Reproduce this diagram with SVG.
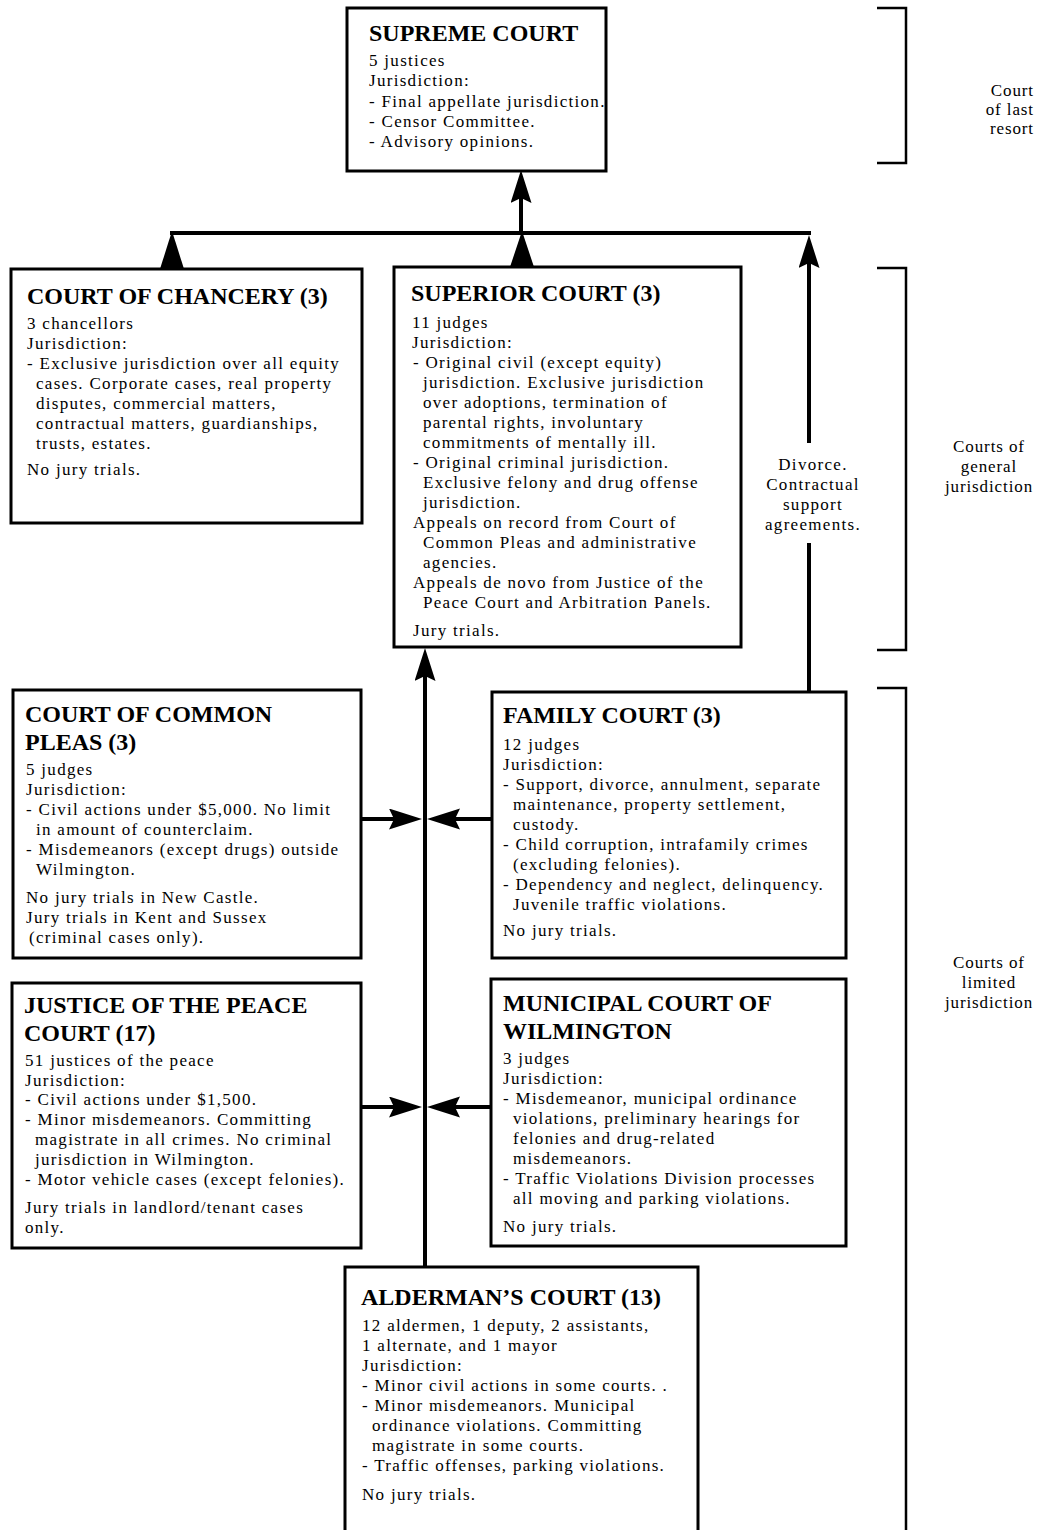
<svg xmlns="http://www.w3.org/2000/svg" width="1039" height="1530" viewBox="0 0 1039 1530">
<style>
.bg{fill:#fff}
.box{fill:#fff;stroke:#000;stroke-width:3}
.title{font-family:"Liberation Serif","Times New Roman",serif;font-weight:bold;font-size:24px;fill:#000}
.body{font-family:"Liberation Serif","Times New Roman",serif;font-size:17px;letter-spacing:1.3px;fill:#000}
.side{font-family:"Liberation Serif","Times New Roman",serif;font-size:17px;letter-spacing:0.9px;fill:#000}
.mid{text-anchor:middle}
.end{text-anchor:end}
.conn{stroke:#000;stroke-width:4;fill:none}
.bracket{stroke:#000;stroke-width:2.5;fill:none}
.tri{fill:#000;stroke:none}
</style>
<defs>
<marker id="ah" markerUnits="userSpaceOnUse" markerWidth="36" markerHeight="22" refX="24" refY="10.5" orient="auto">
<path d="M0,0 L33,10.5 L0,21 L5,10.5 z" fill="#000"/>
</marker>
</defs>
<rect class="bg" x="0" y="0" width="1039" height="1530"/>

<g id="connectors">
<path class="conn" d="M170,233 H811"/>
<path class="conn" d="M521,233 V179" marker-end="url(#ah)"/>
<polygon class="tri" points="172,231 160,269 184,269"/>
<polygon class="tri" points="522,231 510,267 534,267"/>
<path class="conn" d="M809,443 V244" marker-end="url(#ah)"/>
<path class="conn" d="M809,543 V692"/>
<path class="conn" d="M425,1267 V657" marker-end="url(#ah)"/>
<path class="conn" d="M361,819 H413" marker-end="url(#ah)"/>
<path class="conn" d="M492,819 H436" marker-end="url(#ah)"/>
<path class="conn" d="M361,1107 H413" marker-end="url(#ah)"/>
<path class="conn" d="M491,1107 H436" marker-end="url(#ah)"/>
</g>

<g id="supreme-court">
<rect class="box" x="347" y="8" width="259" height="163"/>
<text class="title" x="369" y="41">SUPREME COURT</text>
<text class="body" x="369" y="66">5 justices</text>
<text class="body" x="369" y="86">Jurisdiction:</text>
<text class="body" x="369" y="107">- Final appellate jurisdiction.</text>
<text class="body" x="369" y="127">- Censor Committee.</text>
<text class="body" x="369" y="147">- Advisory opinions.</text>
</g>

<g id="court-of-chancery">
<rect class="box" x="11" y="269" width="351" height="254"/>
<text class="title" x="27" y="304">COURT OF CHANCERY (3)</text>
<text class="body" x="27" y="329">3 chancellors</text>
<text class="body" x="27" y="349">Jurisdiction:</text>
<text class="body" x="27" y="369">- Exclusive jurisdiction over all equity</text>
<text class="body" x="36" y="389">cases. Corporate cases, real property</text>
<text class="body" x="36" y="409">disputes, commercial matters,</text>
<text class="body" x="36" y="429">contractual matters, guardianships,</text>
<text class="body" x="36" y="449">trusts, estates.</text>
<text class="body" x="27" y="475">No jury trials.</text>
</g>

<g id="superior-court">
<rect class="box" x="394" y="267" width="347" height="380"/>
<text class="title" x="411" y="301">SUPERIOR COURT (3)</text>
<text class="body" x="412" y="328">11 judges</text>
<text class="body" x="412" y="348">Jurisdiction:</text>
<text class="body" x="413" y="368">- Original civil (except equity)</text>
<text class="body" x="423" y="388">jurisdiction. Exclusive jurisdiction</text>
<text class="body" x="423" y="408">over adoptions, termination of</text>
<text class="body" x="423" y="428">parental rights, involuntary</text>
<text class="body" x="423" y="448">commitments of mentally ill.</text>
<text class="body" x="413" y="468">- Original criminal jurisdiction.</text>
<text class="body" x="423" y="488">Exclusive felony and drug offense</text>
<text class="body" x="423" y="508">jurisdiction.</text>
<text class="body" x="413" y="528">Appeals on record from Court of</text>
<text class="body" x="423" y="548">Common Pleas and administrative</text>
<text class="body" x="423" y="568">agencies.</text>
<text class="body" x="413" y="588">Appeals de novo from Justice of the</text>
<text class="body" x="423" y="608">Peace Court and Arbitration Panels.</text>
<text class="body" x="413" y="636">Jury trials.</text>
</g>

<g id="divorce-label">
<text class="body mid" x="813" y="470">Divorce.</text>
<text class="body mid" x="813" y="490">Contractual</text>
<text class="body mid" x="813" y="510">support</text>
<text class="body mid" x="813" y="530">agreements.</text>
</g>

<g id="court-of-common-pleas">
<rect class="box" x="13" y="690" width="348" height="268"/>
<text class="title" x="25" y="722">COURT OF COMMON</text>
<text class="title" x="25" y="750">PLEAS (3)</text>
<text class="body" x="26" y="775">5 judges</text>
<text class="body" x="26" y="795">Jurisdiction:</text>
<text class="body" x="26" y="815">- Civil actions under $5,000. No limit</text>
<text class="body" x="36" y="835">in amount of counterclaim.</text>
<text class="body" x="26" y="855">- Misdemeanors (except drugs) outside</text>
<text class="body" x="36" y="875">Wilmington.</text>
<text class="body" x="26" y="903">No jury trials in New Castle.</text>
<text class="body" x="26" y="923">Jury trials in Kent and Sussex</text>
<text class="body" x="29" y="943">(criminal cases only).</text>
</g>

<g id="family-court">
<rect class="box" x="492" y="692" width="354" height="266"/>
<text class="title" x="503" y="723">FAMILY COURT (3)</text>
<text class="body" x="503" y="750">12 judges</text>
<text class="body" x="503" y="770">Jurisdiction:</text>
<text class="body" x="503" y="790">- Support, divorce, annulment, separate</text>
<text class="body" x="513" y="810">maintenance, property settlement,</text>
<text class="body" x="513" y="830">custody.</text>
<text class="body" x="503" y="850">- Child corruption, intrafamily crimes</text>
<text class="body" x="513" y="870">(excluding felonies).</text>
<text class="body" x="503" y="890">- Dependency and neglect, delinquency.</text>
<text class="body" x="513" y="910">Juvenile traffic violations.</text>
<text class="body" x="503" y="936">No jury trials.</text>
</g>

<g id="justice-of-the-peace-court">
<rect class="box" x="12" y="983" width="349" height="265"/>
<text class="title" x="24" y="1013">JUSTICE OF THE PEACE</text>
<text class="title" x="24" y="1041">COURT (17)</text>
<text class="body" x="25" y="1066">51 justices of the peace</text>
<text class="body" x="25" y="1086">Jurisdiction:</text>
<text class="body" x="25" y="1105">- Civil actions under $1,500.</text>
<text class="body" x="25" y="1125">- Minor misdemeanors. Committing</text>
<text class="body" x="35" y="1145">magistrate in all crimes. No criminal</text>
<text class="body" x="35" y="1165">jurisdiction in Wilmington.</text>
<text class="body" x="25" y="1185">- Motor vehicle cases (except felonies).</text>
<text class="body" x="25" y="1213">Jury trials in landlord/tenant cases</text>
<text class="body" x="25" y="1233">only.</text>
</g>

<g id="municipal-court-of-wilmington">
<rect class="box" x="491" y="979" width="355" height="267"/>
<text class="title" x="503" y="1011">MUNICIPAL COURT OF</text>
<text class="title" x="503" y="1039">WILMINGTON</text>
<text class="body" x="503" y="1064">3 judges</text>
<text class="body" x="503" y="1084">Jurisdiction:</text>
<text class="body" x="503" y="1104">- Misdemeanor, municipal ordinance</text>
<text class="body" x="513" y="1124">violations, preliminary hearings for</text>
<text class="body" x="513" y="1144">felonies and drug-related</text>
<text class="body" x="513" y="1164">misdemeanors.</text>
<text class="body" x="503" y="1184">- Traffic Violations Division processes</text>
<text class="body" x="513" y="1204">all moving and parking violations.</text>
<text class="body" x="503" y="1232">No jury trials.</text>
</g>

<g id="aldermans-court">
<path class="box" d="M345,1534 V1267 H698 V1534"/>
<text class="title" x="361" y="1305">ALDERMAN’S COURT (13)</text>
<text class="body" x="362" y="1331">12 aldermen, 1 deputy, 2 assistants,</text>
<text class="body" x="362" y="1351">1 alternate, and 1 mayor</text>
<text class="body" x="362" y="1371">Jurisdiction:</text>
<text class="body" x="362" y="1391">- Minor civil actions in some courts. .</text>
<text class="body" x="362" y="1411">- Minor misdemeanors. Municipal</text>
<text class="body" x="372" y="1431">ordinance violations. Committing</text>
<text class="body" x="372" y="1451">magistrate in some courts.</text>
<text class="body" x="362" y="1471">- Traffic offenses, parking violations.</text>
<text class="body" x="362" y="1500">No jury trials.</text>
</g>

<g id="brackets">
<path class="bracket" d="M877,8 H906 V163 H877"/>
<path class="bracket" d="M877,268 H906 V650 H877"/>
<path class="bracket" d="M877,688 H906 V1534"/>
</g>

<g id="level-labels">
<text class="side end" x="1034" y="96">Court</text>
<text class="side end" x="1034" y="115">of last</text>
<text class="side end" x="1034" y="134">resort</text>
<text class="side mid" x="989" y="452">Courts of</text>
<text class="side mid" x="989" y="472">general</text>
<text class="side mid" x="989" y="492">jurisdiction</text>
<text class="side mid" x="989" y="968">Courts of</text>
<text class="side mid" x="989" y="988">limited</text>
<text class="side mid" x="989" y="1008">jurisdiction</text>
</g>
</svg>
